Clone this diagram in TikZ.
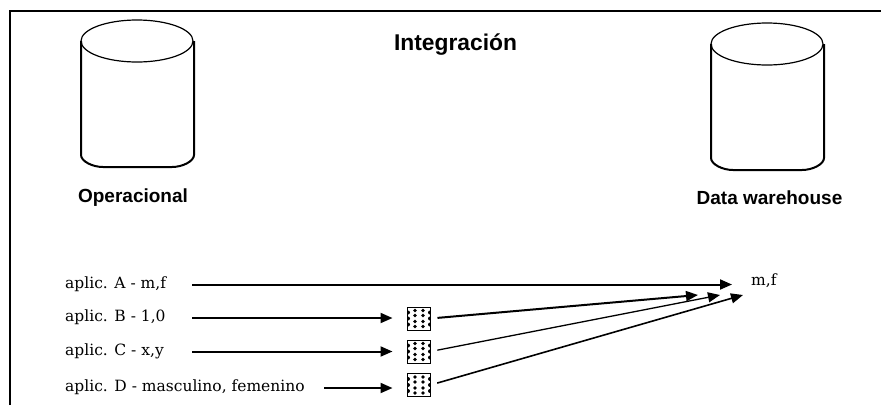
\documentclass[tikz,border=0pt]{standalone}
\usepackage{fontspec}
\setmainfont{DejaVu Serif}
\newfontfamily\headfont{Liberation Sans}
\usetikzlibrary{arrows.meta}
\tikzset{
	headlabel/.style={font=\headfont\bfseries\fontsize{19}{21}\selectfont, inner sep=0pt},
	aplic/.style={font=\fontsize{15.5}{17}\selectfont, anchor=west, inner sep=0pt, text height=10pt, text depth=3pt},
	flow/.style={line width=2pt, -{Triangle[length=12pt,width=10pt]}},
	fanin/.style={-{Triangle[length=12pt,width=10pt]}, shorten <=7pt},
	dots/.style={draw, line width=1pt, fill=white, minimum width=23pt, minimum height=23pt, inner sep=0pt, outer sep=0pt,
		path picture={
			\foreach \dx in {-4,4}
				\foreach \dy in {-8,-3,3,8}
					\fill[black] (path picture bounding box.center) ++(\dx pt,\dy pt) circle (1.9pt);
			\foreach \dx in {-11,11}
				\foreach \dy in {-6,0,6}
					\fill[black] (path picture bounding box.center) ++(\dx pt,\dy pt) circle (2pt);
		}},
}
\begin{document}
\begin{tikzpicture}[x=1pt, y=-1pt]
	\useasboundingbox (0,0) rectangle (881,405);
	\draw[line width=2pt] (10,405)--(10,11)--(881,11);
	% the two cylinders
	\foreach \cx/\cy in {137/41, 767/44}{
		\draw[line width=1.2pt] (\cx,\cy) ellipse [x radius=56, y radius=21];
		\draw[line width=2pt] (\cx-56,\cy) -- (\cx-56,\cy+114) .. controls (\cx-56,\cy+120) and (\cx-45,\cy+126) .. (\cx-34,\cy+126)
			-- (\cx+35,\cy+126) .. controls (\cx+46,\cy+126) and (\cx+57,\cy+120) .. (\cx+57,\cy+114) -- (\cx+57,\cy);
	}
	\node[headlabel, font=\headfont\bfseries\fontsize{22.8}{24}\selectfont] (titulo) at (455.5,45) {Integración};
	\node[headlabel] (operacional) at (133,198) {Operacional};
	\node[headlabel] (warehouse) at (769.5,198) {Data warehouse};
	\node[aplic] (aplicA) at (65,284.5) {aplic. A - m,f};
	\node[aplic] (aplicB) at (65,318) {aplic. B - 1,0};
	\node[aplic] (aplicC) at (65,351.5) {aplic. C - x,y};
	\node[aplic] (aplicD) at (65,388) {aplic. D - masculino, femenino};
	\node[aplic] (mf) at (751,282) {m,f};
	\node[dots] (boxB) at (419,318.5) {};
	\node[dots] (boxC) at (419,351.5) {};
	\node[dots] (boxD) at (419,385) {};
	\coordinate (inicio) at (192,284.5);
	\coordinate (inicioD) at (324,388);
	\coordinate (tipA) at (732,284.5);
	\coordinate (tipB) at (698,295);
	\coordinate (tipC) at (720,295);
	\coordinate (tipD) at (743,295);
	\draw[flow] (inicio) -- (tipA);
	\draw[flow, shorten >=15pt] (aplicB.east -| inicio) -- (aplicB.east -| boxB.west);
	\draw[flow, shorten >=15pt] (aplicC.east -| inicio) -- (aplicC.east -| boxC.west);
	\draw[flow, shorten >=15pt] (inicioD) -- (inicioD -| boxD.west);
	\draw[fanin, line width=2pt] (boxB.east) -- (tipB);
	\draw[fanin, line width=1.3pt] (boxC.east) -- (tipC);
	\draw[fanin, line width=1.6pt] (boxD.east) -- (tipD);
\end{tikzpicture}
\end{document}
